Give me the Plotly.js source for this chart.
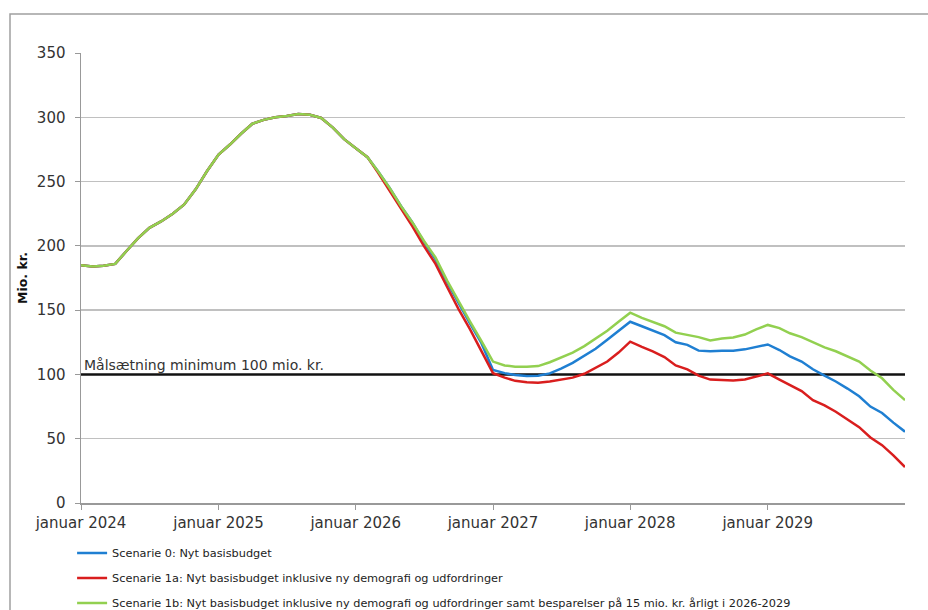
<!DOCTYPE html>
<html>
<head>
<meta charset="utf-8">
<script src="https://cdn.plot.ly/plotly-3.0.1.min.js"></script>
<style>html,body{margin:0;padding:0;background:#fff;}#chart{width:928px;height:610px;}</style>
</head>
<body>
<div id="chart"></div>
<script>
// Monthly observations, January 2024 .. January 2030
const startMonth = '2024-01';
const monthCount = 73;

const scenario0 = [185,184,184.5,186,196,206,214,219,225,232,244,258,
  271,279,287,295,298,300,301,302.5,302,299.5,292,283,
  276,269,258,245,231,218,203,189.5,171.5,155.5,139.5,124.5,
  103.5,101,99.5,98.8,99,100.8,104.5,109,114.5,120,127,134,
  141,137.5,134,130.5,125,123,118.5,118,118.5,118.5,119.5,121.5,
  123.3,119,114,110,104,99,94.5,89,83,75,70,62.5,55.5];

const scenario1a = [185,184,184.5,186,196,206,214,219,225,232,244,258,
  271,279,287,295,298,300,301,302.5,302,299.5,292,283,
  276,269,257,243,229,215,200,186,168,151,135,118,
  101,97.5,95,94,93.5,94.5,96,97.5,100.5,105,110,117,
  125.5,121.5,118,113.5,107,104,99,96,95.6,95.2,96,98.5,
  100.8,96,91.5,87,80,76,71,65,59,51,45,37,28];

const scenario1b = [185,184,184.5,186,196,206,214,219,225,232,244,258,
  271,279,287,295,298,300,301,302.5,302,299.5,292,283,
  276,269,258,245,231,218,204,191,173,157,141,126,
  110,107,106,106,106.5,109.5,113,117,122,128,134,141,
  148,144,141,137.5,132.5,131,129,126.5,128,128.8,131,135,
  138.5,136,132,129,125,121,118,114,110,103,97,88,80];

const target = 100;
const targetLabel = 'Målsætning minimum 100 mio. kr.';

const seriesNames = [
  'Scenarie 0: Nyt basisbudget',
  'Scenarie 1a: Nyt basisbudget inklusive ny demografi og udfordringer',
  'Scenarie 1b: Nyt basisbudget inklusive ny demografi og udfordringer samt besparelser på 15 mio. kr. årligt i 2026-2029'
];
const seriesColors = ['#1f7fd2', '#d91e1e', '#92d050'];

const tickDates = ['2024-01-01','2025-01-01','2026-01-01','2027-01-01','2028-01-01','2029-01-01'];
const tickLabels = ['januar 2024','januar 2025','januar 2026','januar 2027','januar 2028','januar 2029'];
const yTicks = [0,50,100,150,200,250,300,350];

// build month dates
const dates = [];
{
  let [y, m] = startMonth.split('-').map(Number);
  for (let i = 0; i < monthCount; i++) {
    dates.push(y + '-' + String(m).padStart(2,'0') + '-01');
    m++; if (m > 12) { m = 1; y++; }
  }
}

const FONT = 'DejaVu Sans, Verdana, sans-serif';

const traces = [
  {x:[dates[0], dates[dates.length-1]], y:[target, target], mode:'lines',
   line:{color:'#111', width:2.5}, showlegend:false, hoverinfo:'skip'},
  {x:dates, y:scenario0, name:seriesNames[0], mode:'lines', line:{color:seriesColors[0], width:2.5}, legendgroup:'a'},
  {x:dates, y:scenario1a, name:seriesNames[1], mode:'lines', line:{color:seriesColors[1], width:2.5}, legendgroup:'b'},
  {x:dates, y:scenario1b, name:seriesNames[2], mode:'lines', line:{color:seriesColors[2], width:2.5}, legendgroup:'c'}
];

const layout = {
  width:928, height:610,
  margin:{l:81, r:23, t:53, b:107, autoexpand:false},
  paper_bgcolor:'#fff', plot_bgcolor:'#fff',
  font:{family:FONT, color:'#333', size:13},
  showlegend:true,
  legend:{x:-0.0108, xanchor:'left', y:-0.079, yanchor:'top', orientation:'v',
    traceorder:'grouped', tracegroupgap:6,
    font:{family:FONT, size:11.3, color:'#222'},
    bgcolor:'rgba(0,0,0,0)', itemwidth:30},
  xaxis:{type:'date', range:['2024-01-01','2030-01-01'],
    tickvals:tickDates, ticktext:tickLabels, ticks:'outside', ticklen:5, tickcolor:'#999',
    showgrid:false, showline:true, linecolor:'#999', linewidth:1.5, zeroline:false,
    tickfont:{family:FONT, size:15, color:'#333'}},
  yaxis:{range:[0,350], tickvals:yTicks, ticks:'outside', ticklen:5, tickcolor:'#999',
    showgrid:true, gridcolor:'#c0c0c0', gridwidth:1.5, showline:true, linecolor:'#999', linewidth:1.5,
    zeroline:false, ticklabelstandoff:6,
    tickfont:{family:FONT, size:15, color:'#333'},
    title:{text:'<b>Mio. kr.</b>', font:{family:FONT, size:12.5, color:'#111'}, standoff:6}},
  annotations:[{xref:'x', yref:'y', x:dates[0], y:target, text:targetLabel, showarrow:false,
    xanchor:'left', yanchor:'bottom', xshift:1, yshift:-1,
    font:{family:FONT, size:14, color:'#333'}}],
  shapes:[{type:'rect', xref:'paper', yref:'paper',
    x0:-71/824, x1:1.1, y0:(503-14)/450, y1:-0.5,
    line:{color:'#a0a0a0', width:1.5}, fillcolor:'rgba(0,0,0,0)', layer:'below'}]
};

Plotly.newPlot('chart', traces, layout, {displayModeBar:false, staticPlot:true});
</script>
</body>
</html>
